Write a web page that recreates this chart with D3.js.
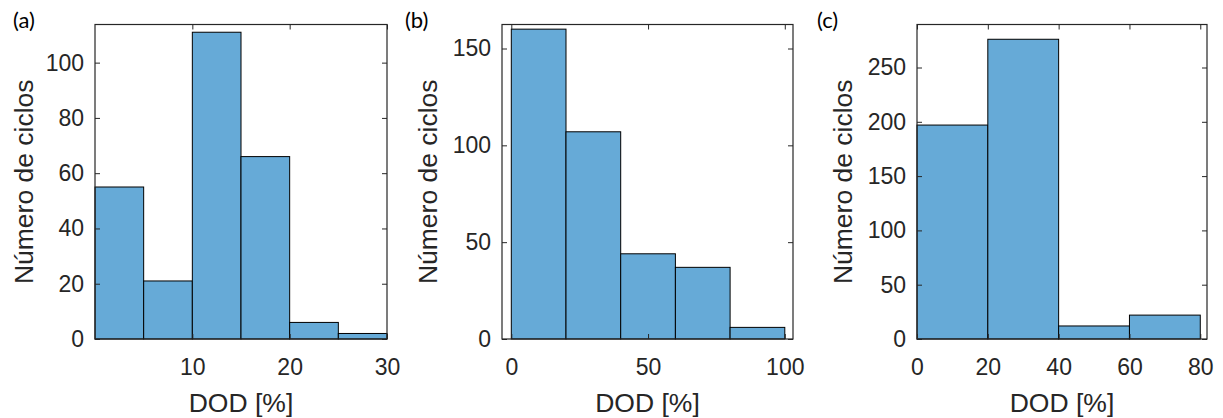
<!DOCTYPE html>
<html>
<head>
<meta charset="utf-8">
<script src="https://cdn.jsdelivr.net/npm/d3@7"></script>
<style>
  body { margin: 0; background: #fff; }
  text { font-family: "Liberation Sans", Arial, sans-serif; fill: #262626; }
  .panel-tag { font-family: Lato, "Open Sans", sans-serif; fill: #000; }
</style>
</head>
<body>
<div id="chart"></div>
<script>
// bin edges and counts
var edgesA = [0, 5, 10, 15, 20, 25, 30];
var countsA = [55, 21, 111, 66, 6, 2];
var ticksXA = [10, 20, 30];
var ticksYA = [0, 20, 40, 60, 80, 100];

var edgesB = [0, 20, 40, 60, 80, 100];
var countsB = [160, 107, 44, 37, 6];
var ticksXB = [0, 50, 100];
var ticksYB = [0, 50, 100, 150];

var edgesC = [0, 20, 40, 60, 80];
var countsC = [197, 276, 12, 22];
var ticksXC = [0, 20, 40, 60, 80];
var ticksYC = [0, 50, 100, 150, 200, 250];

var width = 1223, height = 418;
var plotTop = 24.5, plotBottom = 339;

var panels = [
  { tag: '(a)', tagX: 13, edges: edgesA, counts: countsA, tx: ticksXA, ty: ticksYA,
    xdom: [0, 30], ydom: [0, 113.8], left: 95, right: 387, labelX: 33 },
  { tag: '(b)', tagX: 405, edges: edgesB, counts: countsB, tx: ticksXB, ty: ticksYB,
    xdom: [-3.4, 103], ydom: [0, 162.4], left: 502, right: 793, labelX: 437 },
  { tag: '(c)', tagX: 817, edges: edgesC, counts: countsC, tx: ticksXC, ty: ticksYC,
    xdom: [0, 81.9], ydom: [0, 289.6], left: 917, right: 1207, labelX: 852 }
];

var svg = d3.select('#chart')
  .append('svg')
  .attr('width', width)
  .attr('height', height);

panels.forEach(function(p) {
  var x = d3.scaleLinear().domain(p.xdom).range([p.left, p.right]);
  var y = d3.scaleLinear().domain(p.ydom).range([plotBottom, plotTop]);

  var g = svg.append('g');

  var bins = p.counts.map(function(c, i) {
    return { x0: p.edges[i], x1: p.edges[i + 1], n: c };
  });

  g.selectAll('.bar')
    .data(bins)
    .enter().append('rect')
    .attr('class', 'bar')
    .attr('x', function(d) { return x(d.x0) })
    .attr('width', function(d) { return x(d.x1) - x(d.x0) })
    .attr('y', function(d) { return y(d.n) })
    .attr('height', function(d) { return y(0) - y(d.n) })
    .attr('fill', '#66aad7')
    .attr('stroke', '#000')
    .attr('stroke-width', 1);

  // axes with inside ticks, mirrored on top and right
  var fs = '23px';
  var xb = g.append('g').attr('transform', 'translate(0,' + plotBottom + ')')
    .call(d3.axisBottom(x).tickValues(p.tx).tickSize(-5).tickPadding(20));
  var xt = g.append('g').attr('transform', 'translate(0,' + plotTop + ')')
    .call(d3.axisTop(x).tickValues(p.tx).tickSize(-5).tickFormat(''));
  var yl = g.append('g').attr('transform', 'translate(' + p.left + ',0)')
    .call(d3.axisLeft(y).tickValues(p.ty).tickSize(-5).tickPadding(11));
  var yr = g.append('g').attr('transform', 'translate(' + p.right + ',0)')
    .call(d3.axisRight(y).tickValues(p.ty).tickSize(-5).tickFormat(''));

  [xb, xt, yl, yr].forEach(function(a) {
    a.attr('font-size', null).attr('font-family', null);
    a.select('.domain').remove();
    a.selectAll('line').attr('stroke', '#262626');
    a.selectAll('text').style('font-size', fs).attr('fill', '#262626');
  });

  g.append('rect')
    .attr('x', p.left).attr('y', plotTop)
    .attr('width', p.right - p.left).attr('height', plotBottom - plotTop)
    .attr('fill', 'none')
    .attr('stroke', '#262626')
    .attr('stroke-width', 1.2);

  g.append('text')
    .attr('x', (p.left + p.right) / 2)
    .attr('y', 412)
    .attr('text-anchor', 'middle')
    .style('font-size', '26.5px')
    .text('DOD [%]');

  g.append('text')
    .attr('transform', 'translate(' + p.labelX + ',' + ((plotTop + plotBottom) / 2) + ') rotate(-90)')
    .attr('text-anchor', 'middle')
    .style('font-size', '26.5px')
    .text('Número de ciclos');

  svg.append('text')
    .attr('class', 'panel-tag')
    .attr('x', p.tagX)
    .attr('y', 28)
    .style('font-size', '22px')
    .text(p.tag);
});
</script>
</body>
</html>
